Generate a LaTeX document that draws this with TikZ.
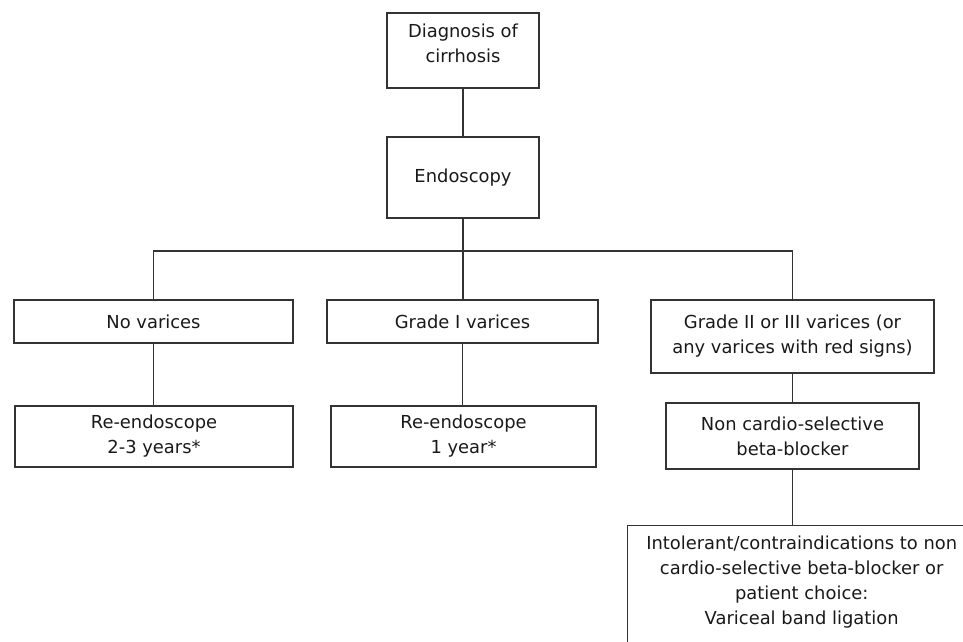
\documentclass[tikz,border=0pt]{standalone}
\usepackage{fontspec}
\setmainfont{DejaVu Sans}
\usepackage{tikz}

\begin{document}
\begin{tikzpicture}[x=1pt,y=-1pt,
  box/.style={draw=black!80, line width=1.4pt, align=center, inner sep=2pt,
    font=\fontsize{17.9}{25}\selectfont, text=black!90},
  link/.style={draw=black!80, line width=1.4pt}]
\useasboundingbox (0,0) rectangle (963,641);

\node[box, minimum width=152, minimum height=75, text depth=14pt] (diag) at (463,50.5) {Diagnosis of\\cirrhosis};
\node[box, minimum width=152, minimum height=81] (endo) at (463,177.5) {Endoscopy};

\node[box, minimum width=279, minimum height=43] (novar) at (153.5,321.5) {No varices};
\node[box, minimum width=271, minimum height=43] (grade1) at (462.5,321.5) {Grade I varices};
\node[box, minimum width=283, minimum height=73] (grade23) at (792.5,336.5) {Grade II or III varices (or\\any varices with red signs)};

\node[box, minimum width=278, minimum height=61] (reendoA) at (154,436.5) {Re-endoscope\\2-3 years*};
\node[box, minimum width=265, minimum height=61] (reendoB) at (463.5,436.5) {Re-endoscope\\1 year*};
\node[box, minimum width=253, minimum height=66] (nsbb) at (792.5,436) {Non cardio-selective\\beta-blocker};
\node[box, anchor=north west, minimum width=348, inner ysep=10pt, text depth=40pt] (intol) at (627,525)
  {Intolerant/contraindications to non\\cardio-selective beta-blocker or\\patient choice:\\Variceal band ligation};

\coordinate (bar) at (463,251);

\draw[link] (diag) -- (endo);
\draw[link] (endo.south) -- (endo.south |- grade1.north);
\draw[link] (novar.north) |- (bar) -| (grade23.north);
\draw[link] (novar.south) -- (novar.south |- reendoA.north);
\draw[link] (grade1.south) -- (grade1.south |- reendoB.north);
\draw[link] (grade23) -- (nsbb);
\draw[link] (nsbb.south) -- (nsbb.south |- intol.north);

\end{tikzpicture}
\end{document}
